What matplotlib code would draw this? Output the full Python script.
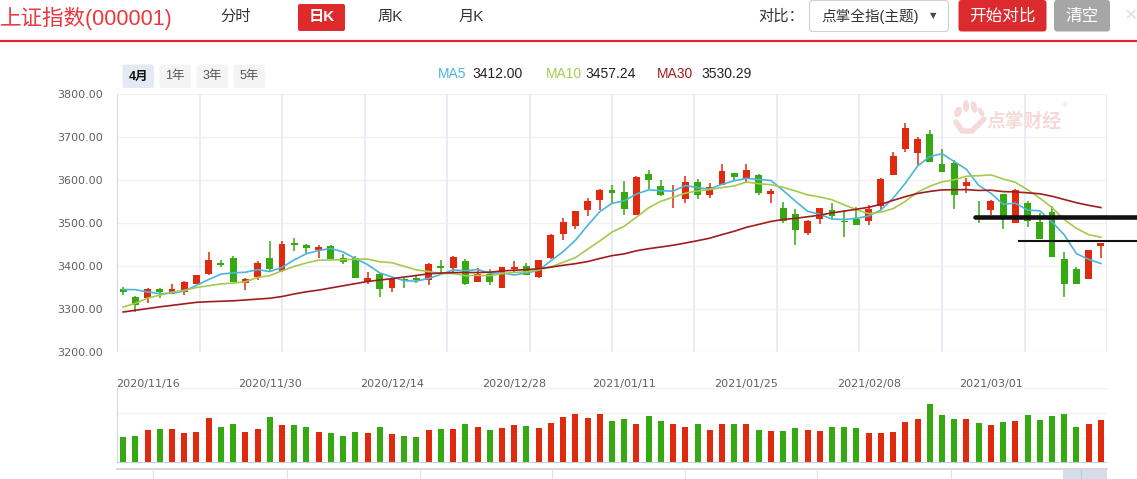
import matplotlib
matplotlib.use('Agg')
import matplotlib.pyplot as plt
import matplotlib.transforms as mtransforms
from matplotlib.patches import FancyBboxPatch, Rectangle, Ellipse
from matplotlib.lines import Line2D
import numpy as np

plt.rcParams['font.family'] = ['Liberation Sans', 'Noto Sans CJK SC', 'DejaVu Sans']

# ---- data ----
opens = [3346, 3329, 3325, 3347, 3336, 3339, 3359, 3382, 3408, 3419,
         3360, 3374, 3419, 3388, 3454, 3450, 3438, 3447, 3419, 3418,
         3363, 3382, 3348, 3370, 3373, 3367, 3401, 3395, 3412, 3362,
         3382, 3350, 3394, 3401, 3374, 3418, 3474, 3492, 3530, 3553,
         3577, 3573, 3518, 3615, 3587, 3564, 3555, 3596, 3564, 3589,
         3617, 3603, 3612, 3567, 3536, 3522, 3476, 3510, 3531, 3505,
         3510, 3504, 3539, 3611, 3673, 3662, 3708, 3638, 3640, 3585,
         3516, 3531, 3568, 3499, 3547, 3503, 3526, 3417, 3392, 3369,
         3446]
closes = [3339, 3310, 3347, 3340, 3347, 3363, 3378, 3414, 3403, 3362,
          3370, 3408, 3392, 3452, 3449, 3442, 3445, 3417, 3410, 3372,
          3373, 3347, 3369, 3367, 3367, 3405, 3395, 3421, 3357, 3382,
          3363, 3397, 3397, 3379, 3414, 3473, 3503, 3529, 3551, 3576,
          3570, 3532, 3608, 3599, 3566, 3566, 3596, 3566, 3584, 3621,
          3607, 3624, 3569, 3574, 3505, 3483, 3505, 3534, 3517, 3502,
          3496, 3532, 3603, 3655, 3722, 3696, 3642, 3618, 3564, 3596,
          3514, 3552, 3509, 3577, 3504, 3462, 3420, 3357, 3358, 3437,
          3453]
highs = [3352, 3330, 3348, 3350, 3359, 3365, 3379, 3433, 3415, 3424,
         3372, 3411, 3457, 3459, 3466, 3451, 3450, 3449, 3429, 3424,
         3386, 3383, 3371, 3372, 3380, 3408, 3415, 3424, 3417, 3396,
         3394, 3398, 3412, 3408, 3415, 3474, 3512, 3529, 3557, 3578,
         3588, 3598, 3610, 3624, 3601, 3588, 3610, 3603, 3592, 3638,
         3617, 3638, 3613, 3580, 3550, 3533, 3508, 3536, 3547, 3530,
         3537, 3542, 3605, 3664, 3733, 3701, 3717, 3673, 3647, 3605,
         3552, 3554, 3568, 3578, 3552, 3524, 3540, 3432, 3398, 3438,
         3454]
lows = [3332, 3293, 3315, 3325, 3334, 3332, 3358, 3380, 3398, 3362,
        3345, 3367, 3388, 3387, 3436, 3430, 3418, 3416, 3404, 3371,
        3359, 3327, 3340, 3350, 3360, 3355, 3384, 3384, 3355, 3362,
        3355, 3350, 3385, 3378, 3373, 3417, 3460, 3485, 3516, 3530,
        3547, 3518, 3518, 3579, 3562, 3536, 3546, 3555, 3557, 3589,
        3597, 3593, 3566, 3547, 3499, 3448, 3471, 3497, 3510, 3467,
        3495, 3495, 3530, 3611, 3664, 3636, 3641, 3618, 3533, 3569,
        3501, 3519, 3487, 3499, 3491, 3462, 3420, 3329, 3357, 3369,
        3418]
ma5 = [3345.4, 3345.0, 3339.6, 3335.6, 3336.6, 3341.5, 3355.0, 3368.5, 3381.1, 3384.1,
       3385.4, 3391.5, 3387.0, 3396.8, 3414.2, 3428.7, 3436.0, 3440.9, 3432.6, 3417.1,
       3403.3, 3383.9, 3374.4, 3365.8, 3364.8, 3371.1, 3380.6, 3390.9, 3388.8, 3391.9,
       3383.5, 3383.9, 3379.2, 3383.7, 3390.1, 3412.1, 3433.4, 3459.7, 3494.0, 3526.4,
       3545.8, 3551.5, 3567.4, 3577.0, 3574.9, 3574.2, 3587.1, 3582.1, 3579.0, 3590.1,
       3598.2, 3603.8, 3601.0, 3599.0, 3575.8, 3551.0, 3527.3, 3520.1, 3508.9, 3508.3,
       3510.9, 3516.3, 3530.3, 3557.8, 3592.5, 3632.5, 3654.5, 3661.1, 3642.9, 3624.8,
       3587.4, 3569.2, 3543.7, 3546.2, 3529.9, 3528.5, 3502.5, 3472.6, 3428.8, 3415.4,
       3405.7]
ma10 = [3304.5, 3313.1, 3325.3, 3332.2, 3339.1, 3343.4, 3350.0, 3354.1, 3358.3, 3360.3,
        3363.4, 3373.3, 3377.7, 3388.9, 3399.2, 3407.1, 3413.7, 3414.0, 3414.7, 3415.7,
        3416.0, 3409.9, 3407.6, 3399.2, 3390.9, 3387.2, 3382.2, 3382.6, 3377.3, 3378.3,
        3377.3, 3382.3, 3385.1, 3386.3, 3391.0, 3397.8, 3408.6, 3419.4, 3438.9, 3458.2,
        3478.9, 3492.4, 3513.5, 3535.5, 3550.6, 3560.0, 3569.3, 3574.7, 3578.0, 3582.5,
        3586.2, 3595.4, 3591.5, 3589.0, 3582.9, 3574.6, 3565.5, 3560.6, 3554.0, 3542.0,
        3531.0, 3521.8, 3525.2, 3533.4, 3550.4, 3571.7, 3585.4, 3595.7, 3600.4, 3608.7,
        3610.0, 3611.9, 3602.4, 3594.6, 3577.4, 3558.0, 3535.9, 3508.1, 3487.5, 3472.7,
        3467.1]
ma30 = [3293.0, 3297.0, 3301.0, 3305.0, 3308.5, 3312.0, 3315.5, 3317.0, 3318.0, 3319.0,
        3321.0, 3323.0, 3325.0, 3329.0, 3335.0, 3340.0, 3344.0, 3349.0, 3354.0, 3359.0,
        3364.0, 3367.5, 3370.5, 3374.4, 3378.0, 3382.0, 3383.7, 3384.5, 3385.0, 3384.8,
        3385.6, 3388.5, 3390.2, 3391.5, 3393.7, 3397.4, 3401.6, 3405.4, 3410.3, 3417.4,
        3424.1, 3428.2, 3435.4, 3440.3, 3444.2, 3448.3, 3453.4, 3458.9, 3464.7, 3473.0,
        3480.8, 3490.0, 3496.7, 3503.6, 3508.2, 3510.8, 3514.5, 3518.2, 3523.6, 3527.6,
        3532.0, 3536.5, 3543.4, 3552.6, 3561.3, 3568.7, 3573.4, 3577.0, 3577.4, 3577.7,
        3575.7, 3576.3, 3573.0, 3572.3, 3570.2, 3568.0, 3562.2, 3554.7, 3547.2, 3541.1,
        3535.9]
volume = [2.07, 2.15, 2.63, 2.72, 2.72, 2.39, 2.47, 3.60, 2.88, 3.12,
          2.47, 2.72, 3.68, 3.04, 3.04, 2.88, 2.47, 2.39, 2.15, 2.47,
          2.39, 2.88, 2.31, 2.15, 2.07, 2.63, 2.72, 2.72, 3.12, 2.88,
          2.63, 2.80, 3.04, 2.96, 2.80, 3.20, 3.68, 3.92, 3.60, 3.92,
          3.36, 3.52, 3.12, 3.76, 3.36, 3.12, 2.88, 3.12, 2.63, 3.12,
          3.12, 3.12, 2.63, 2.55, 2.55, 2.80, 2.63, 2.55, 2.88, 2.88,
          2.80, 2.39, 2.39, 2.47, 3.28, 3.52, 4.73, 3.84, 3.52, 3.52,
          3.20, 3.04, 3.28, 3.36, 3.84, 3.44, 3.76, 3.92, 2.88, 3.12,
          3.44]
label_idx = [2, 12, 22, 32, 41, 51, 61, 71]
label_dates = ['2020/11/16', '2020/11/30', '2020/12/14', '2020/12/28',
               '2021/01/11', '2021/01/25', '2021/02/08', '2021/03/01']
price_ticks = [3200, 3300, 3400, 3500, 3600, 3700, 3800]
ma_legend = [('MA5', '3412.00'), ('MA10', '3457.24'), ('MA30', '3530.29')]

RED = '#df2a10'
GREEN = '#36a912'
C_MA5 = '#4bb5dc'
C_MA10 = '#a6c94e'
C_MA30 = '#9f1d1d'
PINK = '#f6d9d9'

W, H = 1137, 479
fig = plt.figure(figsize=(W / 100, H / 100), dpi=100)
fig.patch.set_facecolor('white')

# pixel coordinates, origin top-left
pix = mtransforms.Affine2D().scale(0.01, -0.01).translate(0, H / 100) + fig.dpi_scale_trans


def box(x, y, w, h, fc, ec='none', r=3, lw=0):
    p = FancyBboxPatch((x, y), w, h, boxstyle='round,pad=0,rounding_size=%s' % r,
                       fc=fc, ec=ec, lw=lw, transform=pix)
    fig.add_artist(p)


def txt(x, y, s, size, color, ha='left', weight='normal', **kw):
    fig.text(x, y, s, transform=pix, fontsize=size, color=color, ha=ha, va='center',
             fontweight=weight, **kw)


def hline(x0, x1, y, color, lw, **kw):
    fig.add_artist(Line2D([x0, x1], [y, y], transform=pix, color=color, lw=lw, **kw))


# ---- header ----
txt(0, 18, '上证指数(000001)', 15.5, '#e8373d')
txt(236, 17, '分时', 11, '#333333', ha='center')
box(298, 4, 47, 27, '#de2a2a', r=2)
txt(321.5, 17.5, '日K', 11, 'white', ha='center', weight='bold')
txt(390, 17, '周K', 11, '#333333', ha='center')
txt(471, 17, '月K', 11, '#333333', ha='center')

txt(758, 17, '对比：', 11, '#333333')
box(809.5, 0.5, 139, 31, 'white', ec='#d2d2d2', r=3, lw=0.8)
txt(821, 16.5, '点掌全指(主题)', 10.5, '#333333')
txt(933, 16, '▼', 6, '#444444', ha='center', family='DejaVu Sans')
box(958.5, 0, 88, 31.5, '#db2b2f', r=3)
txt(1002, 16, '开始对比', 12, 'white', ha='center')
box(1054, 0, 56, 31.5, '#a6a6a6', r=3)
txt(1082, 16, '清空', 12, 'white', ha='center')
txt(1131, 16, '×', 15, '#dddddd', ha='center')
hline(0, W, 41, '#e0262f', 1.6)

# period buttons
for i, lab in enumerate(['4月', '1年', '3年', '5年']):
    bx = 122.5 + i * 37
    sel = i == 0
    box(bx, 64.5, 31.5, 23.5, '#e4eaf4' if sel else '#f4f4f4', r=2)
    txt(bx + 15.75, 76.5, lab, 9, '#111111' if sel else '#555555', ha='center',
        weight='bold' if sel else 'normal')

# MA legend
leg_x = [(438, 472), (546, 585), (657, 701)]
for (name, val), (x0, x1), col in zip(ma_legend, leg_x, [C_MA5, C_MA10, C_MA30]):
    txt(x0, 74, name, 10, col)
    txt(x1, 74, val, 10, '#222222')

# ---- price panel ----
n = len(opens)
x = np.arange(n)
o = np.array(opens, float)
c = np.array(closes, float)
up = c >= o
cols = np.where(up, RED, GREEN)

ax = fig.add_axes([117 / W, 1 - 352 / H, 990 / W, 258 / H])
ax.set_xlim(-0.5, n - 0.5)
ax.set_ylim(3200, 3800)
for s in ax.spines.values():
    s.set_visible(False)
ax.set_xticks([])
ax.set_yticks(price_ticks)
ax.set_yticklabels(['%.2f' % v for v in price_ticks], family='DejaVu Sans')
ax.tick_params(axis='y', length=0, pad=10, labelsize=8, labelcolor='#606060')
for v in price_ticks:
    ax.axhline(v, color='#f1f1f1', lw=1, zorder=0)
for k, xv in enumerate(np.linspace(-0.5, n - 0.5, 13)):
    ax.axvline(xv, color='#c9d7ea' if k == 0 else '#e9edf3', lw=1.4, zorder=0)

# watermark (logo blobs + name)
for ex, ey, ew, eh, ang in [(958, 112, 7, 11, 20), (966, 106, 6, 12, 0),
                            (974, 107, 6, 12, -15), (981, 112, 5, 10, -30)]:
    fig.add_artist(Ellipse((ex, ey), ew, eh, angle=ang, transform=pix, fc=PINK, ec='none'))
fig.add_artist(Line2D([956, 962, 972, 984], [122, 131, 131, 119], transform=pix,
                      color=PINK, lw=4, solid_capstyle='round'))
txt(986, 122, '点掌财经', 13.5, PINK, weight='bold')
txt(1062, 106, '®', 6, PINK)

ax.vlines(x, lows, highs, colors=cols, lw=1.1, zorder=2)
ax.bar(x, np.maximum(np.abs(c - o), 2.0), bottom=np.minimum(o, c), width=0.57,
       color=cols, lw=0, zorder=2)
ax.plot(x, ma5, color=C_MA5, lw=1.2, zorder=3)
ax.plot(x, ma10, color=C_MA10, lw=1.2, zorder=3)
ax.plot(x, ma30, color=C_MA30, lw=1.2, zorder=3)

# date labels between panels
blend = mtransforms.blended_transform_factory(ax.transData, pix)
for i, d in zip(label_idx, label_dates):
    ax.text(i, 384, d, transform=blend, ha='center', va='center', fontsize=8,
            color='#606060', family='DejaVu Sans', clip_on=False)

# hand-drawn support lines
hline(975, 1137, 216.7, '#111111', 3.3, solid_capstyle='round')
hline(1019, 1137, 241, '#111111', 1.5)

# ---- volume panel ----
ax2 = fig.add_axes([117 / W, 1 - 463 / H, 990 / W, 75 / H])
ax2.set_xlim(-0.5, n - 0.5)
ax2.set_ylim(0, 6)
for s in ax2.spines.values():
    s.set_visible(False)
ax2.set_xticks([])
ax2.set_yticks([])
for v in [2, 4, 6]:
    ax2.axhline(v, color='#f1f1f1', lw=1, zorder=0)
ax2.axvline(-0.5, color='#c9d7ea', lw=1.4, zorder=0)
ax2.axhline(0, color='#c8cfdb', lw=1.5, zorder=3)
ax2.bar(x, volume, width=0.49, color=cols, lw=0, zorder=2)

# ---- data-zoom slider ----
hline(117, 1107, 468.5, '#cfcfcf', 1.2)
for sx in [153, 287, 420, 552, 685, 817, 951]:
    fig.add_artist(Line2D([sx, sx], [469, 479], transform=pix, color='#e3e3e3', lw=0.8))
fig.add_artist(Rectangle((1063, 469.5), 44, 10, transform=pix, fc='#d5dcec', ec='none'))
fig.add_artist(Line2D([1081, 1081], [469.5, 479], transform=pix, color='#bcc6dc', lw=0.8))

fig.savefig('out.png', dpi=100, facecolor='white')
